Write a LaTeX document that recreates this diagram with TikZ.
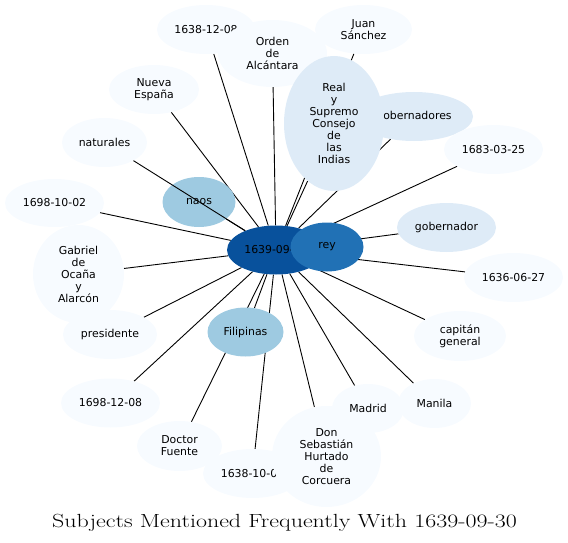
\documentclass[tikz,border=0pt]{standalone}
\usepackage{fontspec}
\newfontfamily\nodefont{DejaVu Sans}
\usetikzlibrary{shapes.geometric}
\pgfdeclarelayer{bg}
\pgfsetlayers{bg,main}
\definecolor{cA}{HTML}{F7FBFF}
\definecolor{cB}{HTML}{DEEBF7}
\definecolor{cC}{HTML}{9ECAE1}
\definecolor{cD}{HTML}{2171B5}
\definecolor{cE}{HTML}{08519C}
\begin{document}
\begin{tikzpicture}[x=1pt,y=-1pt,
  ent/.style={ellipse, draw=none, inner sep=0pt, align=center,
    font=\nodefont\fontsize{10.9}{12}\selectfont, text=black},
  edge/.style={draw=black, line width=0.9pt}]
\useasboundingbox (0,0) rectangle (568,543);
% light nodes
\node[ent, fill=cA, minimum width=98pt, minimum height=49pt] (d1) at (206,29.5) {1638-12-08};
\node[ent, fill=cA, minimum width=109pt, minimum height=67pt] (orden) at (272.5,53.5) {Orden\\de\\Alcántara};
\node[ent, fill=cA, minimum width=97pt, minimum height=49pt] (juan) at (363.5,29.5) {Juan\\Sánchez};
\node[ent, fill=cA, minimum width=90pt, minimum height=49pt] (nueva) at (154,89.5) {Nueva\\España};
\node[ent, fill=cB, minimum width=118pt, minimum height=49pt] (gobs) at (414,116.5) {gobernadores};
\node[ent, fill=cB, minimum width=100pt, minimum height=135pt] (real) at (334,123.5) {Real\\y\\Supremo\\Consejo\\de\\las\\Indias};
\node[ent, fill=cA, minimum width=85pt, minimum height=49pt] (nat) at (104.5,142.5) {naturales};
\node[ent, fill=cA, minimum width=99pt, minimum height=49pt] (d2) at (493.5,149.5) {1683-03-25};
\node[ent, fill=cA, minimum width=99pt, minimum height=48pt] (d3) at (54.5,203) {1698-10-02};
\node[ent, fill=cC, minimum width=73pt, minimum height=50pt] (naos) at (199,202) {naos};
\node[ent, fill=cB, minimum width=99pt, minimum height=49pt] (gob) at (446.5,227.5) {gobernador};
\node[ent, fill=cA, minimum width=91pt, minimum height=98pt] (gab) at (78.5,274) {Gabriel\\de\\Ocaña\\y\\Alarcón};
\node[ent, fill=cA, minimum width=99pt, minimum height=49pt] (d4) at (513.5,277.5) {1636-06-27};
\node[ent, fill=cA, minimum width=94pt, minimum height=49pt] (pres) at (110,334.5) {presidente};
\node[ent, fill=cC, minimum width=76pt, minimum height=49pt] (fil) at (245.5,332) {Filipinas};
\node[ent, fill=cA, minimum width=92pt, minimum height=50pt] (cap) at (460,336) {capitán\\general};
\node[ent, fill=cA, minimum width=99pt, minimum height=49pt] (d5) at (110.5,403) {1698-12-08};
\node[ent, fill=cA, minimum width=85pt, minimum height=50pt] (doc) at (179.5,446) {Doctor\\Fuente};
\node[ent, fill=cA, minimum width=99pt, minimum height=49pt] (d6) at (252.5,473.5) {1638-10-0\phantom{0}};
\node[ent, fill=cA, minimum width=109pt, minimum height=101pt] (don) at (326.5,456.5) {Don\\Sebastián\\Hurtado\\de\\Corcuera};
\node[ent, fill=cA, minimum width=72pt, minimum height=49pt] (mad) at (368,408.5) {Madrid};
\node[ent, fill=cA, minimum width=73pt, minimum height=49pt] (man) at (434.5,403.5) {Manila};
% centre
\node[ent, fill=cE, minimum width=98pt, minimum height=49pt] (c) at (276,250) {1639-09-30};
\node[ent, fill=cD, minimum width=73pt, minimum height=49pt] (rey) at (327,247) {rey};
% edges
\begin{pgfonlayer}{bg}
\foreach \n in {d1,orden,juan,nueva,gobs,real,d2,d3,naos,gob,gab,d4,pres,fil,cap,d5,doc,d6,don,mad,man,rey}
  \draw[edge] (c) -- (\n);
\end{pgfonlayer}
\draw[edge] (c) -- (nat);
% title
\node[font=\fontsize{19}{22}\selectfont, anchor=base, xscale=1.26, inner sep=0pt] (title) at (284.5,527) {Subjects Mentioned Frequently With 1639-09-30};
\end{tikzpicture}
\end{document}
